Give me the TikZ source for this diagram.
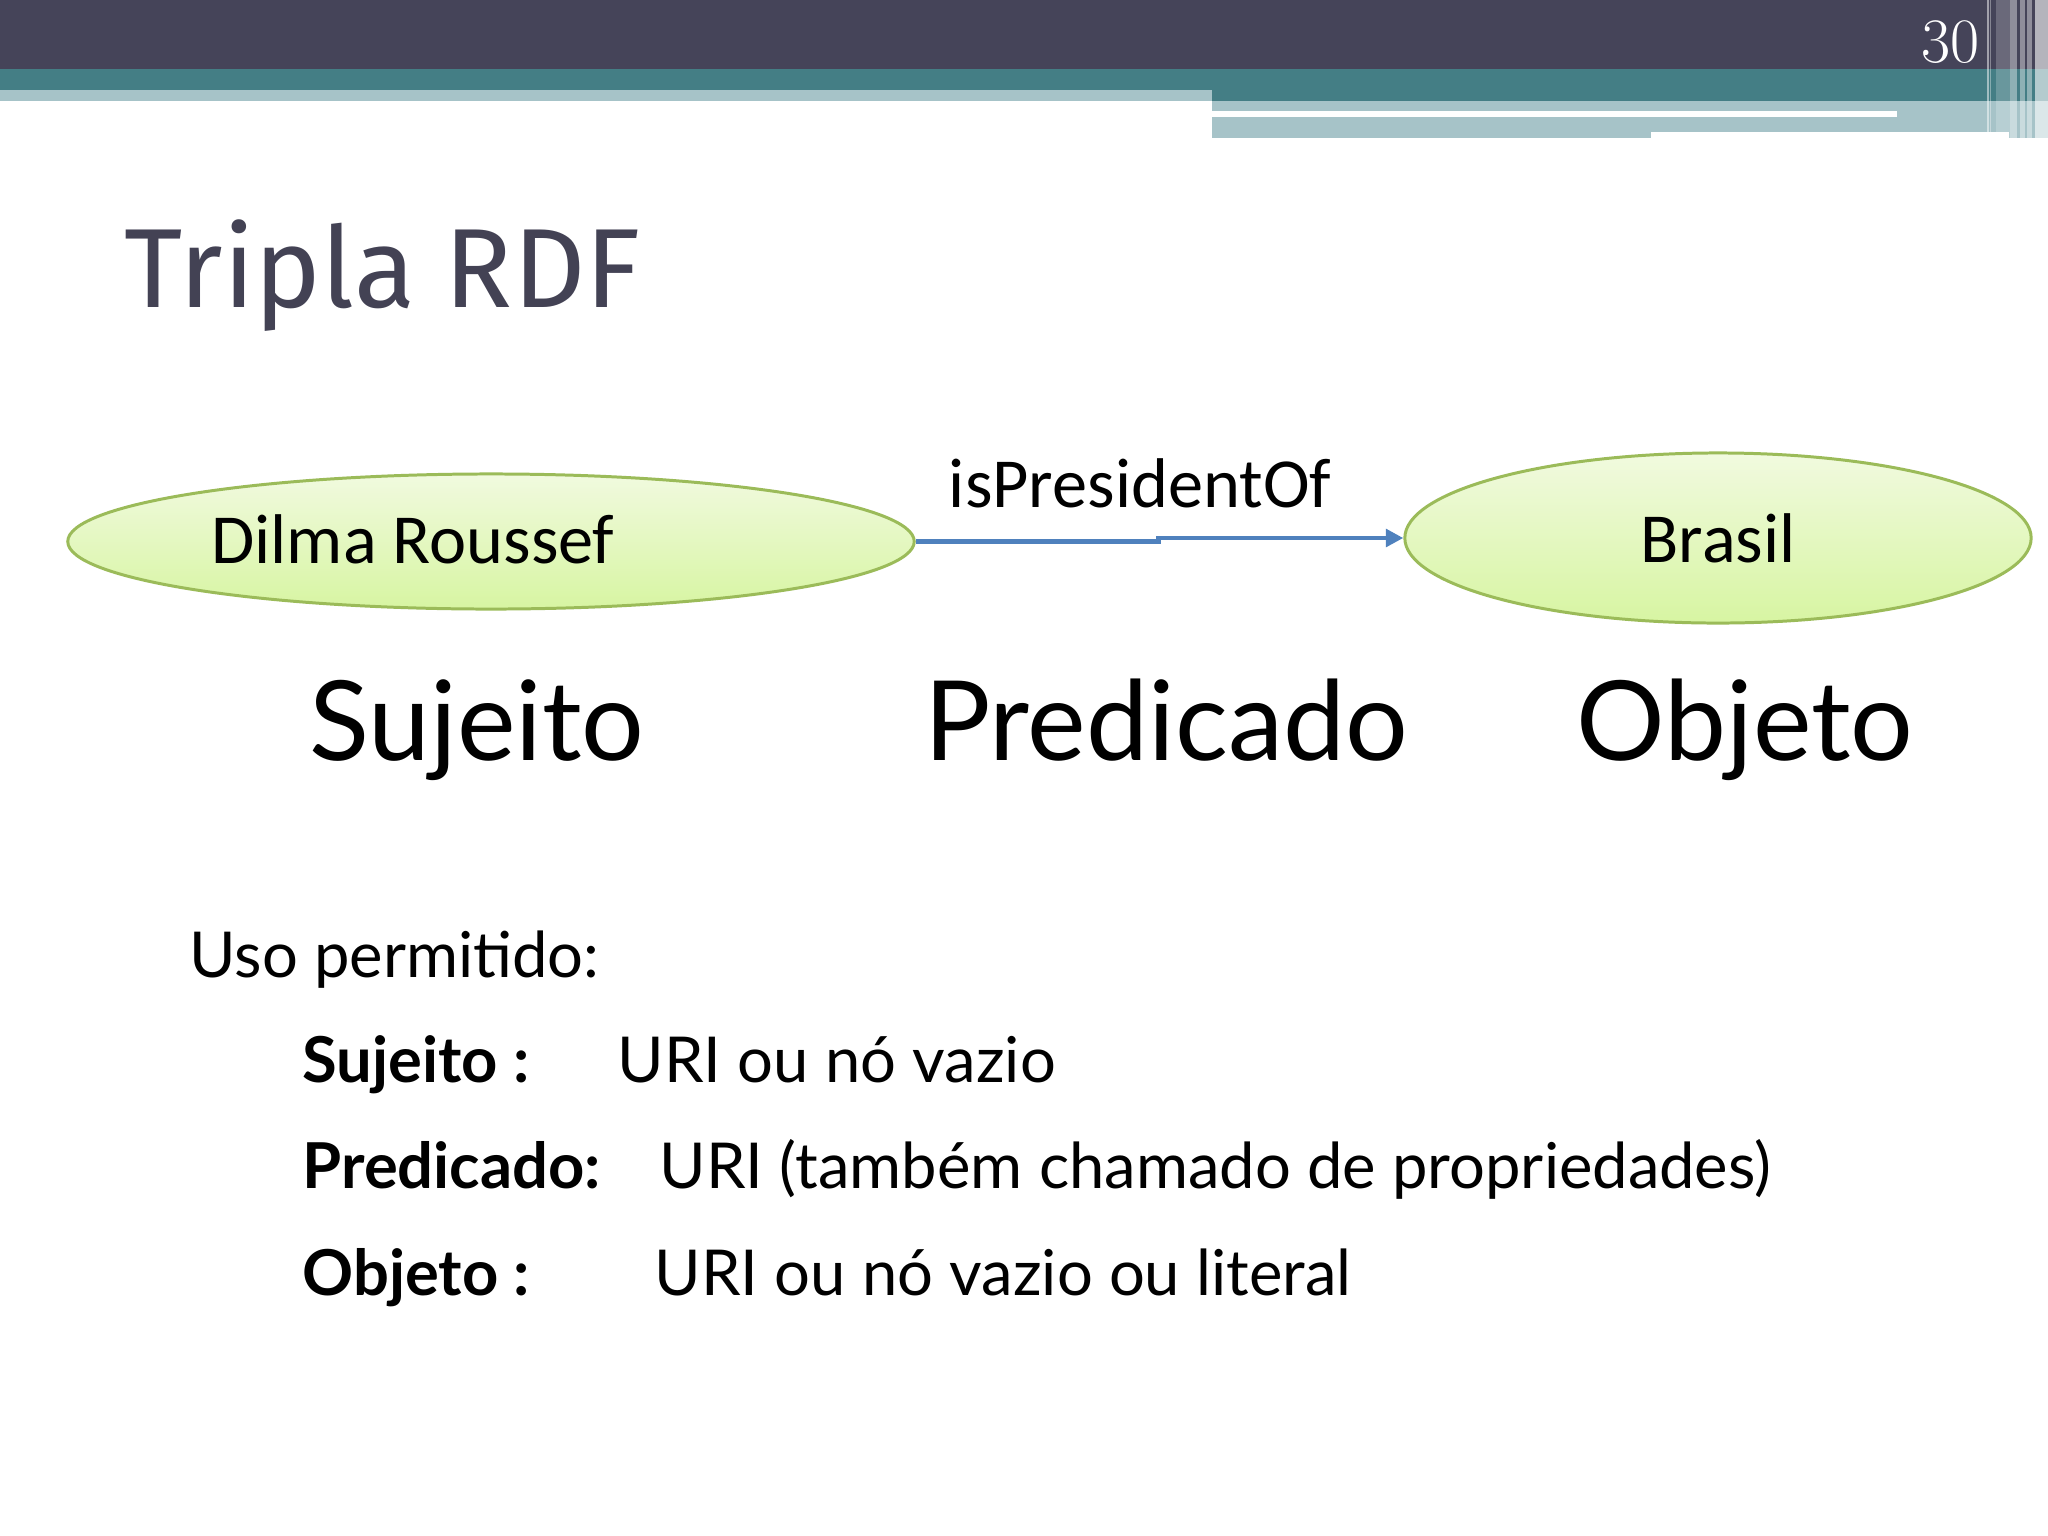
\documentclass[tikz,border=0pt]{standalone}
\usepackage{fontspec}
\usetikzlibrary{shapes.geometric,arrows.meta}
\newfontfamily\titlefont{Fira Sans}
\newfontfamily\gillfont{Lato}
\newfontfamily\calfont{Carlito}
\definecolor{barDark}{HTML}{454459}
\definecolor{barTeal}{HTML}{447E85}
\definecolor{barLight}{HTML}{A6C3C8}
\definecolor{titleGray}{HTML}{434254}
\definecolor{entLine}{HTML}{9BBB59}
\definecolor{entTop}{HTML}{F1FADF}
\definecolor{entBot}{HTML}{D7F5A2}
\definecolor{relBlue}{HTML}{4F81BD}
\begin{document}
\begin{tikzpicture}[x=0.01cm,y=-0.01cm,
  ent/.style={ellipse, draw=entLine, line width=0.85pt, top color=entTop, bottom color=entBot, inner sep=0pt},
  enttxt/.style={font=\calfont\fontsize{20}{24}\selectfont, anchor=base, inner sep=0pt},
  rel/.style={draw=relBlue, line width=1.3pt, -{Triangle[length=5pt,width=5pt]}},
  bigword/.style={font=\gillfont\fontsize{31.5}{38}\selectfont, anchor=base, inner sep=0pt},
  listtxt/.style={font=\gillfont\fontsize{18}{22}\selectfont, anchor=base west, inner sep=0pt}]
  \useasboundingbox (0,0) rectangle (2048,1536);
  % header bar
  \fill[barDark] (0,0) rectangle (2048,69);
  \fill[barTeal] (0,69) rectangle (2048,90);
  \fill[barTeal] (1212,90) rectangle (2048,101);
  \fill[barLight] (0,90) rectangle (1212,101);
  \fill[barLight] (1212,101) rectangle (2048,138);
  \fill[white] (1212,111) rectangle (1897,117);
  \fill[white] (1651,132) rectangle (2009,138);
  \foreach \xa/\xb/\op in {1987/1989/0.5, 1990/1991/0.35, 1996/2010/0.2, 2010/2017/0.4,
                           2020/2025/0.4, 2027/2032/0.4, 2035/2048/0.6}
    \fill[white, opacity=\op] (\xa,0) rectangle (\xb,138);
  \node[font=\fontsize{18}{20}\selectfont, text=white, anchor=base east, inner sep=0pt] (pgnum) at (1980,62) {30};
  % title
  \node[font=\titlefont\fontsize{32}{38}\selectfont, text=titleGray, anchor=base west, inner sep=0pt] (title) at (124,307) {Tripla RDF};
  % the triple
  \node[ent, minimum width=8.46cm, minimum height=1.35cm] (dilma) at (491,541.5) {};
  \node[enttxt] (dilmalbl) at (413,563) {Dilma Roussef};
  \node[ent, minimum width=6.26cm, minimum height=1.70cm] (brasil) at (1718,538) {};
  \node[enttxt] (brasillbl) at (1718,562) {Brasil};
  \draw[rel] (dilma.east) -- ++(243,0) |- (brasil.west);
  \node[enttxt] (predlbl) at (1140,507) {isPresidentOf};
  % roles
  \node[bigword] (sujeito) at (477,760) {Sujeito};
  \node[bigword] (predicado) at (1166,760) {Predicado};
  \node[bigword] (objeto) at (1745,760) {Objeto};
  % allowed use
  \node[listtxt] (uso) at (189,977) {Uso permitido:};
  \node[listtxt] (sujkey) at (302,1082) {\bfseries Sujeito :};
  \node[listtxt] (sujval) at (617,1082) {URI ou nó vazio};
  \node[listtxt] (predkey) at (302,1188) {\bfseries Predicado:};
  \node[listtxt] (predval) at (659,1188) {URI (também chamado de propriedades)};
  \node[listtxt] (objkey) at (302,1295) {\bfseries Objeto :};
  \node[listtxt] (objval) at (654,1295) {URI ou nó vazio ou literal};
\end{tikzpicture}
\end{document}
